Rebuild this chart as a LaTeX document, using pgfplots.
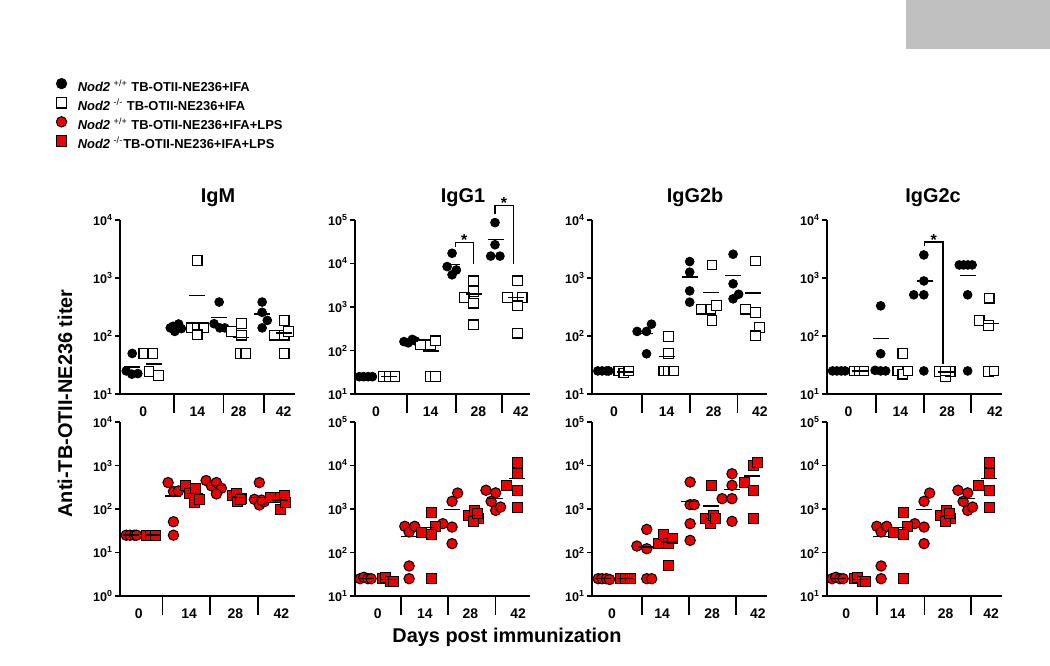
\documentclass[border=0pt]{standalone}
\usepackage{fontspec}
\setmainfont{Liberation Sans}
\usepackage{pgfplots}
\pgfplotsset{compat=1.18}
\definecolor{mred}{RGB}{236,0,0}
\definecolor{boxgray}{RGB}{192,192,192}
\newcommand{\tp}[1]{10\textsuperscript{#1}}
\newcommand{\onesep}[2]{\draw[line width=0.8bp] (axis cs:#1,#2) -- ([yshift=-9.5bp]axis cs:#1,#2);}
\newcommand{\seps}[4]{\onesep{#1}{#4}\onesep{#2}{#4}\onesep{#3}{#4}}
\tikzset{
 blk/.style={mark=*, mark size=2.2bp, mark options={fill=black, draw=black, line width=0.4bp}},
 wsq/.style={mark=square*, mark size=2.4bp, mark options={fill=white, draw=black, line width=0.6bp}},
 rci/.style={mark=*, mark size=2.6bp, mark options={fill=mred, draw=black, line width=0.5bp}},
 rsq/.style={mark=square*, mark size=2.5bp, mark options={fill=mred, draw=black, line width=0.5bp}},
 mbar/.style={mark=-, mark size=4bp, mark options={draw=black, line width=0.7bp}},
}
\pgfplotsset{
 every axis/.append style={
  scale only axis, width=87.5bp, height=87bp,
  ymode=log, log basis y=10, yminorticks=false,
  axis x line*=bottom, axis y line*=left,
  xmin=-0.52, xmax=7.63,
  axis line style={line width=0.8bp, black},
  tick align=outside, major tick length=2.5bp,
  ytick style={line width=0.8bp, black},
  xtick style={draw=none},
  xticklabels={0,14,28,42},
  xticklabel style={font=\fontsize{7}{8}\selectfont\bfseries, yshift=-0.5bp},
  yticklabel style={font=\fontsize{6.3}{7}\selectfont\bfseries, inner sep=0.8bp},
  clip=false,
  title style={anchor=base, yshift=3bp, font=\fontsize{10}{12}\selectfont\bfseries},
 },
 rngfour/.style={ymin=10, ymax=10000, ytick={10,100,1000,10000}, yticklabels={\tp{1},\tp{2},\tp{3},\tp{4}}},
 rngfive/.style={ymin=10, ymax=100000, ytick={10,100,1000,10000,100000}, yticklabels={\tp{1},\tp{2},\tp{3},\tp{4},\tp{5}}},
 rngzero/.style={ymin=1, ymax=10000, ytick={1,10,100,1000,10000}, yticklabels={\tp{0},\tp{1},\tp{2},\tp{3},\tp{4}}},
}
\begin{document}
\begin{tikzpicture}
\path[use as bounding box] (0,0) rectangle (525bp,-333bp);
\fill[boxgray] (453bp,0) rectangle (525bp,-24.5bp);
\node[rotate=90, font=\fontsize{10}{12}\selectfont\bfseries] at (32.5bp,-201.75bp) {Anti-TB-OTII-NE236 titer};
\node[font=\fontsize{10}{12}\selectfont\bfseries] at (253.5bp,-318.5bp) {Days post immunization};

% ---------------- IgM top
\begin{axis}[rngfour, at={(60bp,-197bp)}, anchor=south west,
  title=IgM, title style={at={(0.56,1)}},
  xtick={0.56,3.08,5.0,7.1},
  legend cell align=left,
  legend style={at={(-0.366,1.816)}, anchor=north west, draw=none, fill=none, inner sep=0pt,
    font=\fontsize{6.5}{8}\selectfont\bfseries, row sep=1.1bp, column sep=5bp,
    nodes={inner sep=0.5bp, text height=5bp, text depth=1.5bp}},
  legend image code/.code={\draw[#1, mark size=2.6bp] plot coordinates {(0bp,2.1bp)};}]
\addplot[only marks, blk] coordinates {(0.05,50) (-0.23,25) (0.03,22) (0.31,22.5)
 (1.82,138) (2.03,120) (2.21,161) (2.34,134) (1.95,147)
 (4.10,385) (3.86,163) (4.13,138) (4.36,138)
 (6.1,385) (6.1,256) (6.34,186) (6.1,138)};
\addlegendentry{\textit{Nod2} \textsuperscript{\mdseries +/+} TB-OTII-NE236+IFA}
\addplot[only marks, wsq] coordinates {(0.59,50) (1.01,50) (0.83,24.6) (1.28,20.7)
 (3.08,2000) (2.80,138) (3.08,138) (3.38,138) (3.08,105)
 (4.67,120) (5.14,163) (5.14,103) (5.1,50) (5.34,50)
 (6.67,103) (7.13,103) (7.13,186) (7.32,120) (7.13,50)};
\addlegendentry{\textit{Nod2} \textsuperscript{\mdseries -/-} TB-OTII-NE236+IFA}
\addlegendimage{only marks, rci}
\addlegendentry{\textit{Nod2} \textsuperscript{\mdseries +/+} TB-OTII-NE236+IFA+LPS}
\addlegendimage{only marks, rsq}
\addlegendentry{\textit{Nod2} \textsuperscript{\mdseries -/-}TB-OTII-NE236+IFA+LPS}
\addplot[only marks, mbar, forget plot] coordinates {(0.03,29) (1.06,33) (2.05,145) (3.05,504) (4.1,209) (5.1,95) (6.1,240) (7.1,112)};
\seps{2.0}{4.3}{6.2}{10}
\end{axis}

% ---------------- IgG1 top
\begin{axis}[rngfive, at={(177.5bp,-197bp)}, anchor=south west,
  title=IgG1, title style={at={(0.617,1)}},
  xtick={0.46,3.0,5.23,7.2}]
\addplot[only marks, blk] coordinates {(-0.32,25) (-0.12,25) (0.09,25) (0.29,25)
 (1.76,160) (1.96,150) (2.15,180) (2.3,165)
 (4.0,17200) (3.77,8500) (4.0,5500) (4.2,7100)
 (6.0,87000) (6.0,27000) (5.8,14800) (6.23,14800)};
\addplot[only marks, wsq] coordinates {(0.79,25) (1.06,25) (1.34,25)
 (2.53,135) (2.99,135) (3.23,167) (2.99,25) (3.23,25)
 (5.0,4000) (5.0,2265) (4.57,1650) (5.0,1225) (5.0,390)
 (7.04,4000) (6.59,1650) (7.27,1650) (7.04,1065) (7.04,251)};
\addplot[only marks, mbar] coordinates {(0,25) (1.06,25) (2.05,164) (3.0,97) (4.0,9550) (5.0,1970) (6.03,36000) (7.0,1650)};
\draw[line width=0.6bp] (axis cs:4.15,23900) -- (axis cs:4.15,30600) -- (axis cs:5.0,30600) -- (axis cs:5.0,10000);
\node[font=\fontsize{8}{8}\selectfont\bfseries, anchor=base, inner sep=0pt, yshift=-1.7bp] at (axis cs:4.57,30600) {*};
\draw[line width=0.6bp] (axis cs:6.0,141000) -- (axis cs:6.0,216000) -- (axis cs:6.85,216000) -- (axis cs:6.85,10000);
\node[font=\fontsize{8}{8}\selectfont\bfseries, anchor=base, inner sep=0pt, yshift=-1.7bp] at (axis cs:6.42,216000) {*};
\seps{1.9}{4.17}{6.34}{10}
\end{axis}

% ---------------- IgG2b top
\begin{axis}[rngfour, at={(296bp,-197bp)}, anchor=south west,
  title=IgG2b, title style={at={(0.589,1)}},
  xtick={0.5,2.95,5.15,7.3}]
\addplot[only marks, blk] coordinates {(-0.25,25) (-0.05,25) (0.16,25) (0.26,25)
 (1.58,120) (2.02,120) (2.25,160) (2.02,49.4)
 (4.03,1920) (4.03,1260) (4.03,600) (4.03,383)
 (6.05,2570) (6.05,795) (6.31,525) (6.05,437)};
\addplot[only marks, wsq] coordinates {(0.73,25) (0.96,23) (1.19,25)
 (3.05,98) (3.05,50) (2.82,25) (3.05,25) (3.29,25)
 (5.07,1680) (4.57,290) (5.02,290) (5.27,336) (5.07,185)
 (7.09,1970) (6.62,290) (7.09,254) (7.29,140) (7.09,101)};
\addplot[only marks, mbar] coordinates {(0,25) (1,24) (1.97,110) (2.98,44.5) (4.03,1033) (5.02,562) (6.05,1100) (7.0,550)};
\seps{1.81}{4.03}{6.26}{10}
\end{axis}

% ---------------- IgG2c top
\begin{axis}[rngfour, at={(413.5bp,-197bp)}, anchor=south west,
  title=IgG2c, title style={at={(0.606,1)}},
  xtick={0.48,2.9,5.07,7.3}]
\addplot[only marks, blk] coordinates {(-0.26,25) (-0.06,25) (0.14,25) (0.32,25)
 (1.98,331) (1.98,49.5) (1.72,25.6) (1.98,25) (2.21,25)
 (3.99,2500) (3.99,890) (3.52,513) (3.99,513) (3.99,25)
 (5.64,1680) (5.84,1680) (6.04,1680) (6.24,1680) (6.03,513) (6.03,25)};
\addplot[only marks, wsq] coordinates {(0.74,25) (0.97,25) (1.2,25)
 (3.01,50) (2.78,25) (3.01,22) (3.25,25)
 (4.71,24.6) (4.99,20) (5.22,24.6) (4.99,25)
 (7.03,449) (6.57,185) (7.0,151) (7.0,24.6) (7.26,25)};
\addplot[only marks, mbar] coordinates {(0,25) (1,25) (2.0,90) (3,30) (4.06,890) (5,24) (6.03,1100) (7.1,165)};
\draw[line width=0.6bp] (axis cs:4.02,3550) -- (axis cs:4.02,4170) -- (axis cs:4.88,4170) -- (axis cs:4.88,33);
\node[font=\fontsize{8}{8}\selectfont\bfseries, anchor=base, inner sep=0pt, yshift=-1.7bp] at (axis cs:4.45,4170) {*};
\seps{1.75}{3.99}{6.2}{10}
\end{axis}

% ---------------- IgM bottom
\begin{axis}[rngzero, at={(60bp,-298bp)}, anchor=south west,
  xtick={0.35,2.7,4.85,7.0}]
\addplot[only marks, rci] coordinates {(-0.23,25) (-0.05,25) (0.15,25) (0.25,25)
 (1.72,405) (1.97,251) (2.2,260) (1.97,51) (1.97,25)
 (3.49,451) (3.74,340) (3.97,405) (4.2,300) (3.97,222)
 (5.74,167) (5.97,405) (5.97,124) (6.2,147) (6.08,160)};
\addplot[only marks, rsq] coordinates {(0.72,25) (0.92,25) (1.12,25)
 (2.54,340) (2.74,222) (3.0,290) (2.97,140) (3.2,167)
 (4.74,200) (4.89,222) (4.97,147) (5.15,176) (5.1,163)
 (6.5,186) (6.97,186) (6.97,100) (7.15,200) (7.2,140)};
\addplot[only marks, mbar] coordinates {(0,25) (1,25) (1.95,200) (2.96,230) (4.0,343) (4.95,183) (5.95,183) (6.95,162)};
\seps{1.46}{3.66}{5.9}{1}
\end{axis}

% ---------------- IgG1 bottom
\begin{axis}[rngfive, at={(177.5bp,-298bp)}, anchor=south west,
  xtick={0.54,2.74,4.85,7.08}]
\addplot[only marks, rci] coordinates {(-0.28,25) (-0.11,27) (0.08,25) (0.23,25)
 (1.8,400) (2.0,296) (2.26,400) (2.0,49) (2.0,25)
 (3.57,460) (4.26,2330) (4.0,1500) (4.0,385) (4.0,160)
 (5.58,2700) (5.82,1500) (6.03,2350) (6.03,930) (6.26,1110)};
\addplot[only marks, rsq] coordinates {(0.77,25) (0.92,26) (1.12,22) (1.26,22)
 (2.57,296) (3.03,824) (3.23,400) (3.03,257) (3.03,25)
 (4.77,714) (5.03,930) (5.23,600) (5.0,520) (5.2,780)
 (6.54,3500) (7.03,11600) (7.03,6470) (7.03,2700) (7.03,1070)};
\addplot[only marks, mbar] coordinates {(0,25) (1,24) (2.0,235) (2.95,370) (4.0,966) (5,709) (6.0,1727) (7.03,4980)};
\seps{1.62}{3.82}{6.03}{10}
\end{axis}

% ---------------- IgG2b bottom
\begin{axis}[rngfive, at={(296bp,-298bp)}, anchor=south west,
  xtick={0.41,2.75,5.08,7.2}]
\addplot[only marks, rci] coordinates {(-0.23,25) (-0.05,25) (0.15,25) (0.3,24)
 (1.57,141) (2.03,340) (2.03,122) (2.03,25) (2.26,25)
 (4.05,4170) (4.05,1260) (4.24,1260) (4.05,460) (4.05,190)
 (5.54,1727) (6.0,6470) (6.0,3500) (6.0,1727) (6.0,520)};
\addplot[only marks, rsq] coordinates {(0.79,25) (1.02,25) (1.25,25)
 (2.56,165) (2.79,257) (3.02,160) (3.25,215) (3.02,50.7)
 (5.04,3500) (4.78,600) (4.99,460) (5.15,714) (5.24,600)
 (6.56,4170) (6.99,10000) (7.2,11500) (6.99,2700) (6.99,620)};
\addplot[only marks, mbar] coordinates {(0,25) (1,25) (1.98,134) (3.08,174) (4.0,1500) (5.0,1175) (6.0,2780) (6.95,5750)};
\seps{1.8}{4.0}{6.18}{10}
\end{axis}

% ---------------- IgG2c bottom
\begin{axis}[rngfive, at={(413.5bp,-298bp)}, anchor=south west,
  xtick={0.38,2.77,5.0,7.12}]
\addplot[only marks, rci] coordinates {(-0.28,25) (-0.11,27) (0.08,25) (0.23,25)
 (1.8,400) (2.0,296) (2.26,400) (2.0,49) (2.0,25)
 (3.57,460) (4.26,2330) (4.0,1500) (4.0,385) (4.0,160)
 (5.58,2700) (5.82,1500) (6.03,2350) (6.03,930) (6.26,1110)};
\addplot[only marks, rsq] coordinates {(0.77,25) (0.92,26) (1.12,22) (1.26,22)
 (2.57,296) (3.03,824) (3.23,400) (3.03,257) (3.03,25)
 (4.77,714) (5.03,930) (5.23,600) (5.0,520) (5.2,780)
 (6.54,3500) (7.03,11600) (7.03,6470) (7.03,2700) (7.03,1070)};
\addplot[only marks, mbar] coordinates {(0,25) (1,24) (2.0,235) (2.95,370) (4.0,966) (5,709) (6.0,1727) (7.03,4980)};
\seps{1.8}{4.02}{6.2}{10}
\end{axis}
\end{tikzpicture}
\end{document}
